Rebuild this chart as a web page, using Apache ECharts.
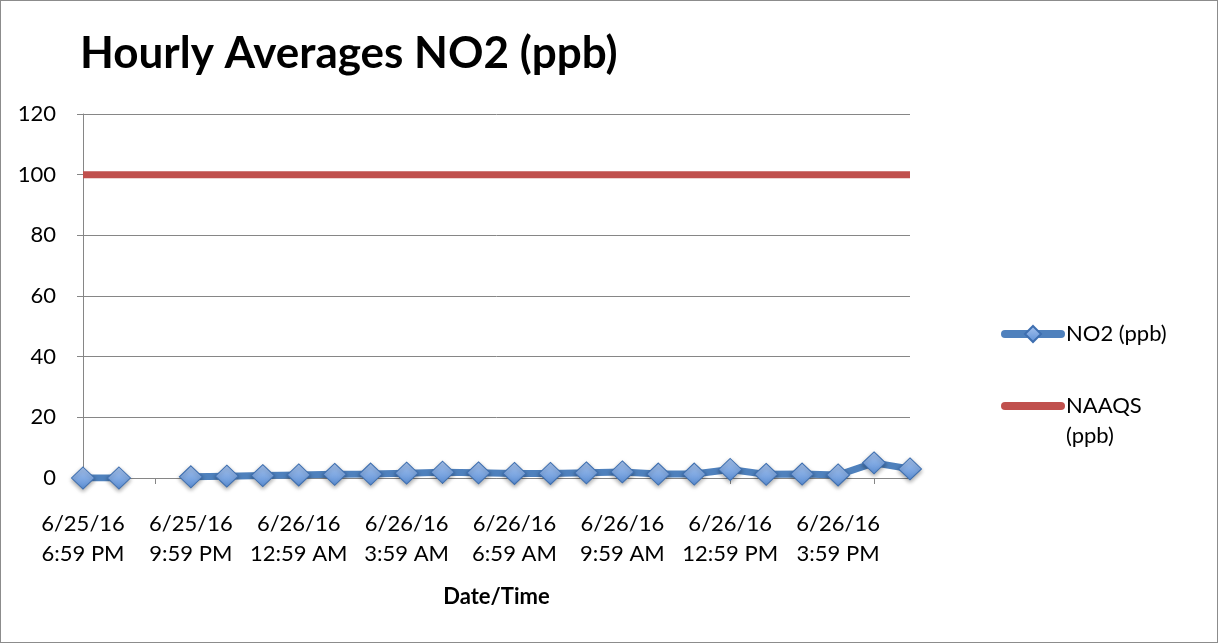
<!DOCTYPE html>
<html>
<head>
<meta charset="utf-8">
<script src="https://cdn.jsdelivr.net/npm/echarts@6/dist/echarts.min.js"></script>
<style>
  html, body { margin: 0; padding: 0; background: #fff; }
  #chart { width: 1216px; height: 641px; border: 1px solid #8c8c8c; }
</style>
</head>
<body>
<div id="chart"></div>
<script>
// hourly timestamps (two-line labels like the spreadsheet)
const times = [
  '6/25/16\n6:59 PM', '6/25/16\n7:59 PM', '6/25/16\n8:59 PM', '6/25/16\n9:59 PM',
  '6/25/16\n10:59 PM', '6/25/16\n11:59 PM', '6/26/16\n12:59 AM', '6/26/16\n1:59 AM',
  '6/26/16\n2:59 AM', '6/26/16\n3:59 AM', '6/26/16\n4:59 AM', '6/26/16\n5:59 AM',
  '6/26/16\n6:59 AM', '6/26/16\n7:59 AM', '6/26/16\n8:59 AM', '6/26/16\n9:59 AM',
  '6/26/16\n10:59 AM', '6/26/16\n11:59 AM', '6/26/16\n12:59 PM', '6/26/16\n1:59 PM',
  '6/26/16\n2:59 PM', '6/26/16\n3:59 PM', '6/26/16\n4:59 PM', '6/26/16\n5:59 PM'
];
// NO2 readings, 8:59 PM is missing
const no2 = [0, 0, null, 0.4, 0.6, 0.8, 1.0, 1.2, 1.3, 1.6, 1.9, 1.7, 1.5, 1.5, 1.7, 2.0, 1.3, 1.3, 2.8, 1.2, 1.3, 1.0, 5.0, 3.0];
// standard line
const naaqs = [100, 100, 100, 100, 100, 100, 100, 100, 100, 100, 100, 100, 100, 100, 100, 100, 100, 100, 100, 100, 100, 100, 100, 100];
const yTicks = [0, 20, 40, 60, 80, 100, 120];

const font = 'Lato, "Open Sans", sans-serif';
const myChart = echarts.init(document.getElementById('chart'));

const option = {
  animation: false,
  textStyle: { fontFamily: font, color: '#000' },
  title: {
    text: 'Hourly Averages NO2 (ppb)',
    left: 74,
    top: 26,
    textStyle: { fontFamily: font, fontSize: 44, fontWeight: 'bold', color: '#000' }
  },
  grid: { left: 82, right: 307, top: 113, bottom: 164 },
  legend: {
    orient: 'vertical',
    left: 995,
    top: 313,
    padding: 5,
    itemWidth: 56,
    itemHeight: 20,
    itemGap: 12,
    lineStyle: { width: 8, cap: 'round' },
    textStyle: { fontFamily: font, fontSize: 22, color: '#000', lineHeight: 30 },
    formatter: function (name) {
      // first line blank so "NAAQS" sits level with the icon
      return name === 'NAAQS (ppb)' ? ' \nNAAQS\n(ppb)' : name;
    },
    data: [
      { name: 'NO2 (ppb)' },
      // line only, no marker
      { name: 'NAAQS (ppb)', itemStyle: { opacity: 0 } }
    ]
  },
  xAxis: {
    type: 'category',
    data: times,
    boundaryGap: false,
    name: 'Date/Time',
    nameLocation: 'middle',
    nameGap: 108,
    nameTextStyle: { fontFamily: font, fontSize: 22, fontWeight: 'bold', color: '#000' },
    axisLine: { lineStyle: { color: '#868686', width: 1 } },
    axisTick: {
      length: 6,
      interval: function (i) { return i % 4 === 2; },
      lineStyle: { color: '#868686' }
    },
    axisLabel: {
      interval: 2,
      margin: 31,
      fontSize: 22,
      lineHeight: 30,
      color: '#000',
      fontFamily: font
    }
  },
  yAxis: {
    type: 'value',
    min: yTicks[0],
    max: yTicks[yTicks.length - 1],
    interval: 20,
    axisLine: { show: true, lineStyle: { color: '#868686' } },
    axisTick: { show: true, length: 6, lineStyle: { color: '#868686' } },
    splitLine: { lineStyle: { color: '#868686', width: 1 } },
    axisLabel: { fontSize: 22, color: '#000', margin: 27, fontFamily: font }
  },
  series: [
    {
      name: 'NO2 (ppb)',
      type: 'line',
      data: no2,
      connectNulls: false,
      symbol: 'diamond',
      symbolSize: [23, 22],
      z: 3,
      lineStyle: { color: '#4f81bd', width: 7 },
      itemStyle: {
        color: new echarts.graphic.LinearGradient(0, 0, 0, 1, [
          { offset: 0, color: '#a9c5ef' },
          { offset: 1, color: '#5b8fd6' }
        ]),
        borderColor: '#3e6fb0',
        borderWidth: 1,
        shadowBlur: 4,
        shadowColor: 'rgba(0,0,0,0.35)',
        shadowOffsetY: 2
      }
    },
    {
      name: 'NAAQS (ppb)',
      type: 'line',
      data: naaqs,
      symbol: 'none',
      z: 2,
      lineStyle: { color: '#c0504d', width: 7 },
      itemStyle: { color: '#c0504d' }
    }
  ]
};
myChart.setOption(option);
</script>
</body>
</html>
